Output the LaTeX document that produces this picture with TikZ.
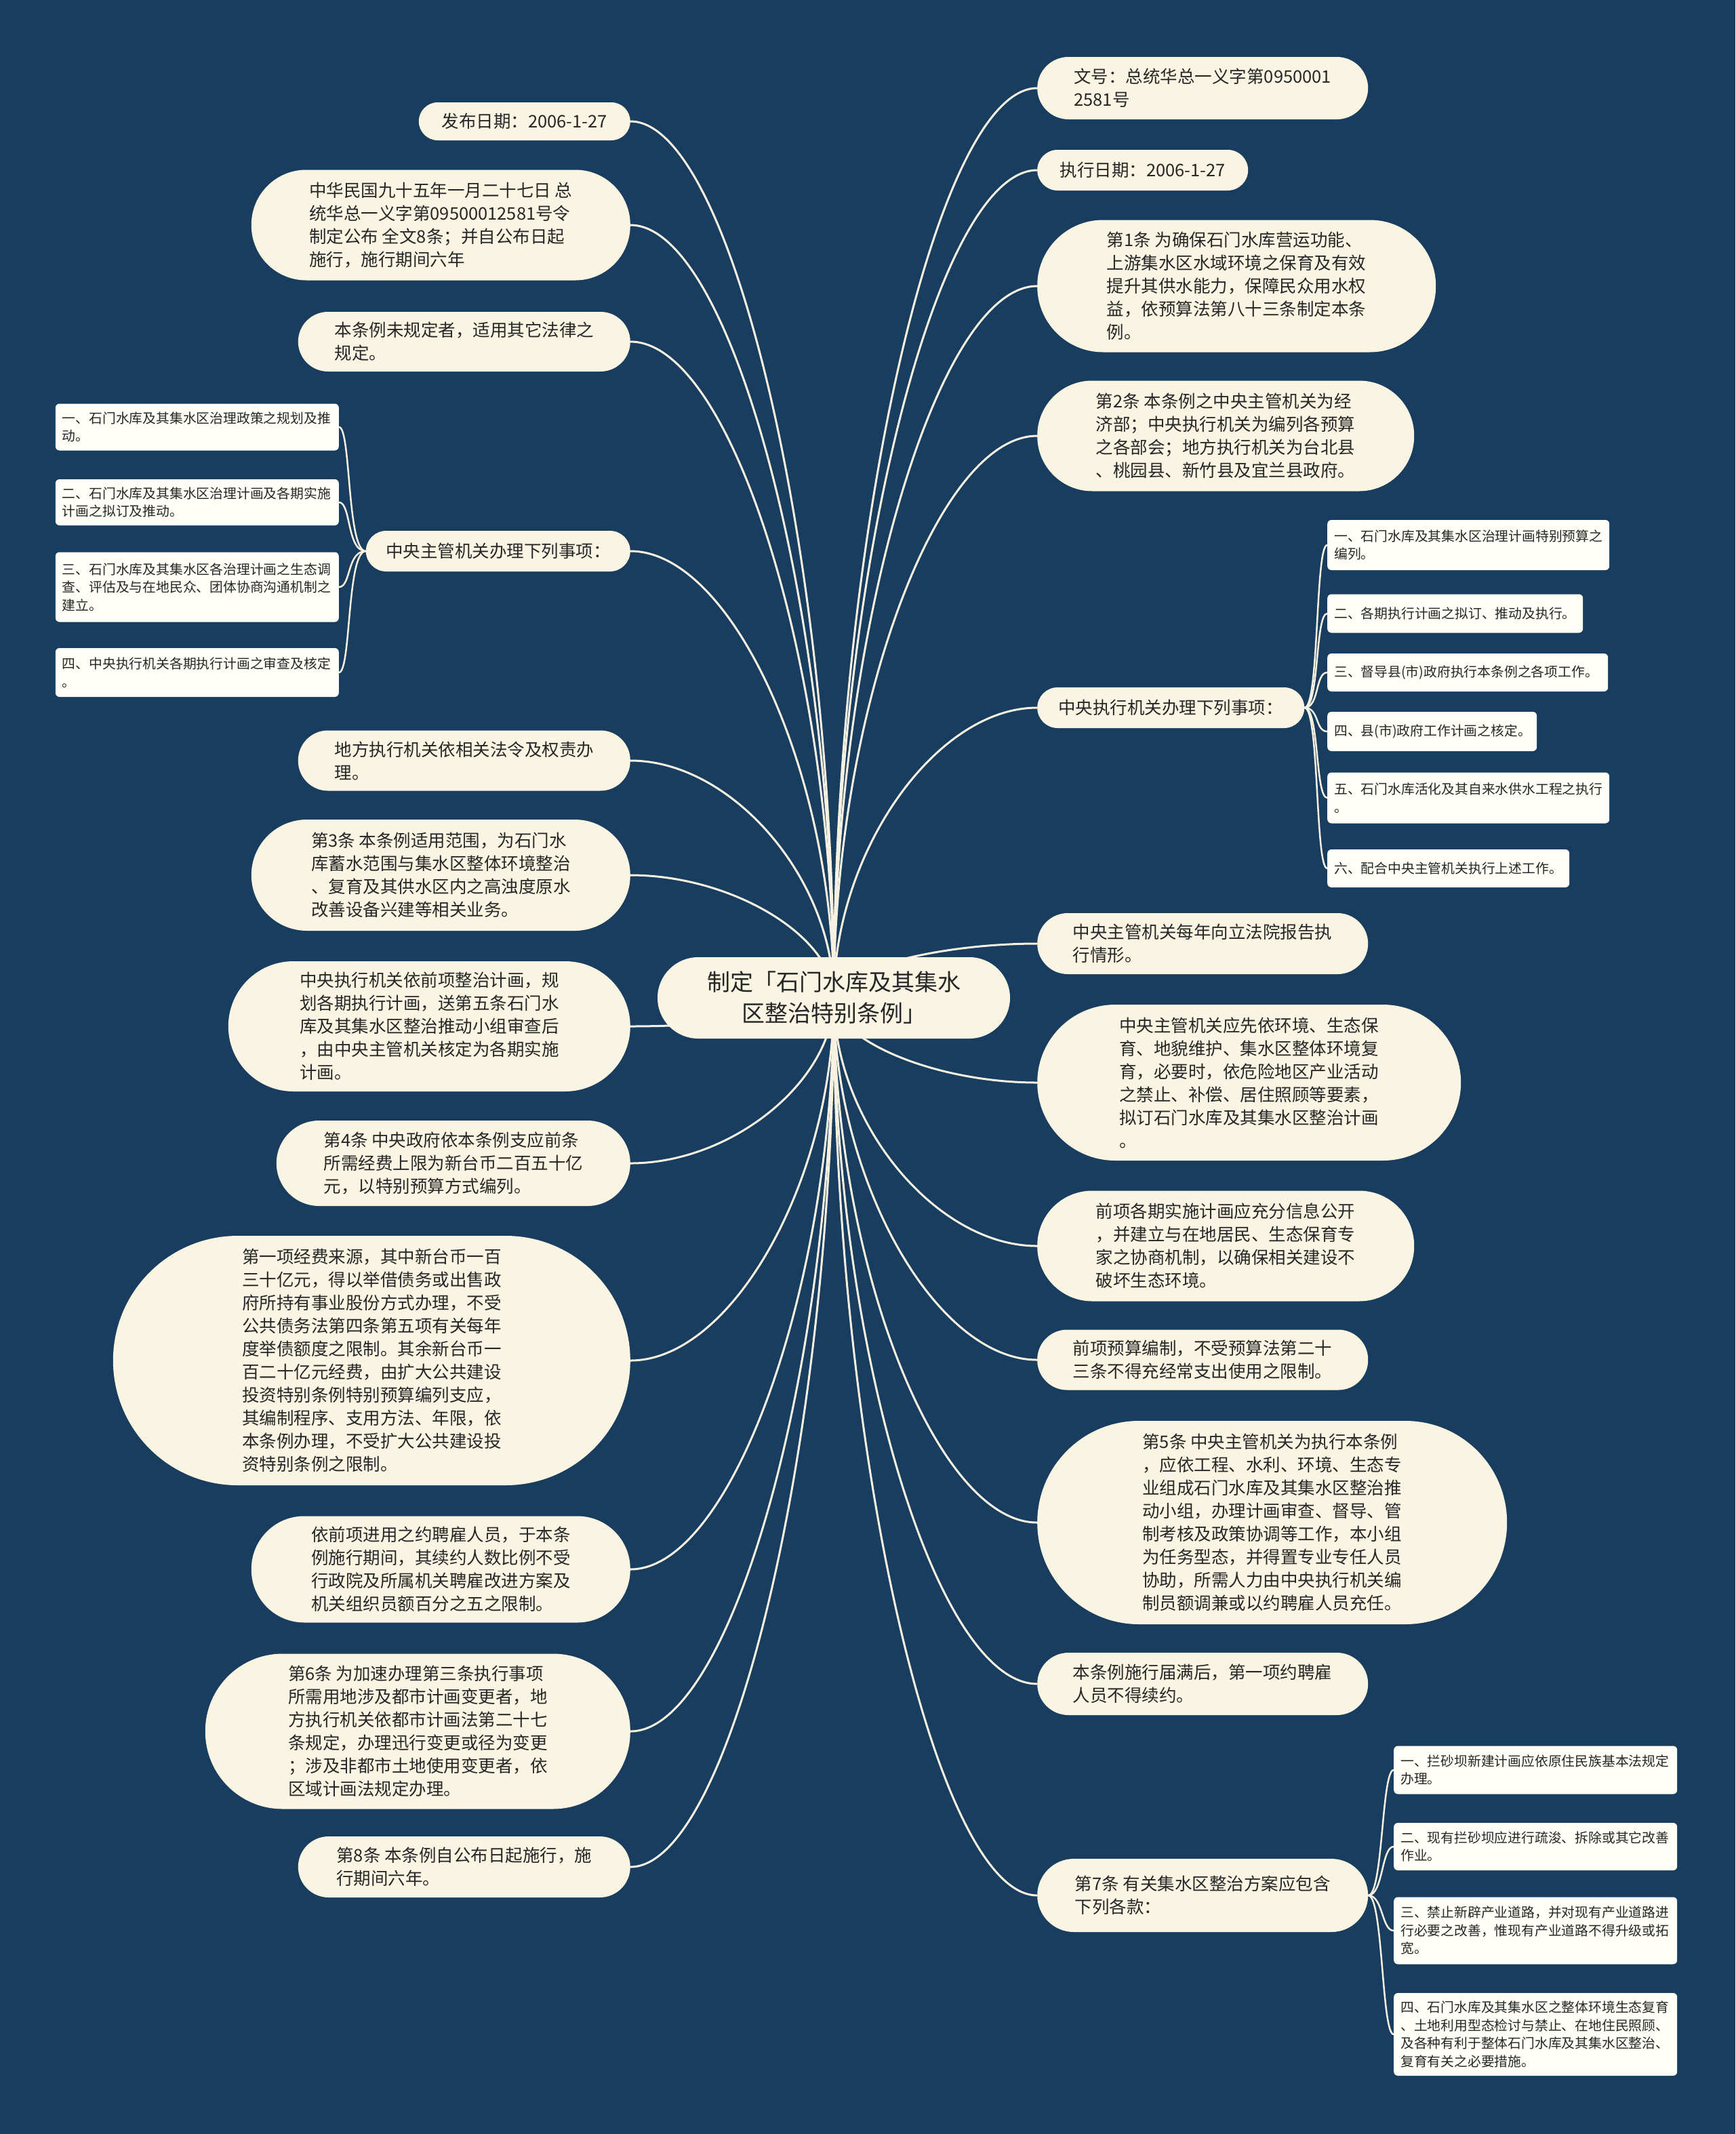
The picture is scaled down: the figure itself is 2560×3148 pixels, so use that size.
\documentclass[tikz,border=0pt]{standalone}
\usepackage{fontspec}
\setmainfont{Noto Sans CJK SC}
\usetikzlibrary{backgrounds,calc}
\definecolor{bgc}{RGB}{25,61,94}
\definecolor{nodec}{RGB}{250,245,227}
\definecolor{leafc}{RGB}{255,254,247}
\definecolor{linec}{RGB}{246,241,224}
\definecolor{txtc}{RGB}{38,38,38}
\tikzset{
  mainnode/.style={fill=nodec, text=txtc, align=left, inner sep=0pt, font=\fontsize{25.5}{34}\selectfont},
  rootnode/.style={fill=nodec, text=txtc, align=center, inner sep=0pt, font=\fontsize{34}{46}\selectfont},
  leafnode/.style={fill=leafc, text=txtc, align=left, inner xsep=10pt, inner ysep=0pt, rounded corners=6pt, font=\fontsize{19.8}{26.5}\selectfont},
  conn/.style={draw=linec, line width=3pt},
  subconn/.style={draw=linec, line width=2.5pt},
}
\begin{document}
\begin{tikzpicture}[x=1pt,y=-1pt]
\useasboundingbox (0,0) rectangle (2560,3148);
% root
\node[rootnode, minimum width=520pt, minimum height=120pt, rounded corners=60pt] (root) at (1230,1472) {制定「石门水库及其集水\\区整治特别条例」};
% left main nodes
\node[mainnode, anchor=east, minimum width=312pt, minimum height=56pt, rounded corners=28pt] (L1) at (930,179) {发布日期：2006-1-27};
\node[mainnode, anchor=east, minimum width=559pt, minimum height=163pt, rounded corners=81pt] (L2) at (930,332) {中华民国九十五年一月二十七日 总\\统华总一义字第09500012581号令\\制定公布 全文8条；并自公布日起\\施行，施行期间六年};
\node[mainnode, anchor=east, minimum width=490pt, minimum height=88pt, rounded corners=44pt] (L3) at (930,504) {本条例未规定者，适用其它法律之\\规定。};
\node[mainnode, anchor=east, minimum width=390pt, minimum height=60pt, rounded corners=30pt] (L4) at (930,813) {中央主管机关办理下列事项：};
\node[mainnode, anchor=east, minimum width=490pt, minimum height=89pt, rounded corners=44pt] (L5) at (930,1122) {地方执行机关依相关法令及权责办\\理。};
\node[mainnode, anchor=east, minimum width=559pt, minimum height=164pt, rounded corners=82pt] (L6) at (930,1291) {第3条 本条例适用范围，为石门水\\库蓄水范围与集水区整体环境整治\\、复育及其供水区内之高浊度原水\\改善设备兴建等相关业务。};
\node[mainnode, anchor=east, minimum width=593pt, minimum height=192pt, rounded corners=96pt] (L7) at (930,1514) {中央执行机关依前项整治计画，规\\划各期执行计画，送第五条石门水\\库及其集水区整治推动小组审查后\\，由中央主管机关核定为各期实施\\计画。};
\node[mainnode, anchor=east, minimum width=522pt, minimum height=126pt, rounded corners=63pt] (L8) at (930,1716) {第4条 中央政府依本条例支应前条\\所需经费上限为新台币二百五十亿\\元，以特别预算方式编列。};
\node[mainnode, anchor=east, minimum width=763pt, minimum height=368pt, rounded corners=184pt] (L9) at (930,2007) {第一项经费来源，其中新台币一百\\三十亿元，得以举借债务或出售政\\府所持有事业股份方式办理，不受\\公共债务法第四条第五项有关每年\\度举债额度之限制。其余新台币一\\百二十亿元经费，由扩大公共建设\\投资特别条例特别预算编列支应，\\其编制程序、支用方法、年限，依\\本条例办理，不受扩大公共建设投\\资特别条例之限制。};
\node[mainnode, anchor=east, minimum width=559pt, minimum height=157pt, rounded corners=78pt] (L10) at (930,2315) {依前项进用之约聘雇人员，于本条\\例施行期间，其续约人数比例不受\\行政院及所属机关聘雇改进方案及\\机关组织员额百分之五之限制。};
\node[mainnode, anchor=east, minimum width=627pt, minimum height=229pt, rounded corners=114pt] (L11) at (930,2554) {第6条 为加速办理第三条执行事项\\所需用地涉及都市计画变更者，地\\方执行机关依都市计画法第二十七\\条规定，办理迅行变更或径为变更\\；涉及非都市土地使用变更者，依\\区域计画法规定办理。};
\node[mainnode, anchor=east, minimum width=490pt, minimum height=90pt, rounded corners=45pt] (L12) at (930,2754) {第8条 本条例自公布日起施行，施\\行期间六年。};
% left leaves
\node[leafnode, anchor=east, text width=398pt, minimum height=69pt] (LA1) at (500,630) {一、石门水库及其集水区治理政策之规划及推\\动。};
\node[leafnode, anchor=east, text width=398pt, minimum height=68pt] (LA2) at (500,741) {二、石门水库及其集水区治理计画及各期实施\\计画之拟订及推动。};
\node[leafnode, anchor=east, text width=398pt, minimum height=103pt] (LA3) at (500,866) {三、石门水库及其集水区各治理计画之生态调\\查、评估及与在地民众、团体协商沟通机制之\\建立。};
\node[leafnode, anchor=east, text width=398pt, minimum height=72pt] (LA4) at (500,992) {四、中央执行机关各期执行计画之审查及核定\\。};
% right main nodes
\node[mainnode, anchor=west, minimum width=488pt, minimum height=92pt, rounded corners=46pt] (R1) at (1530,130) {文号：总统华总一义字第0950001\\2581号};
\node[mainnode, anchor=west, minimum width=311pt, minimum height=60pt, rounded corners=30pt] (R2) at (1530,251) {执行日期：2006-1-27};
\node[mainnode, anchor=west, minimum width=588pt, minimum height=195pt, rounded corners=97pt] (R3) at (1530,422) {第1条 为确保石门水库营运功能、\\上游集水区水域环境之保育及有效\\提升其供水能力，保障民众用水权\\益，依预算法第八十三条制定本条\\例。};
\node[mainnode, anchor=west, minimum width=556pt, minimum height=163pt, rounded corners=81pt] (R4) at (1530,643) {第2条 本条例之中央主管机关为经\\济部；中央执行机关为编列各预算\\之各部会；地方执行机关为台北县\\、桃园县、新竹县及宜兰县政府。};
\node[mainnode, anchor=west, minimum width=394pt, minimum height=60pt, rounded corners=30pt] (R5) at (1530,1044) {中央执行机关办理下列事项：};
\node[mainnode, anchor=west, minimum width=488pt, minimum height=90pt, rounded corners=45pt] (R6) at (1530,1392) {中央主管机关每年向立法院报告执\\行情形。};
\node[mainnode, anchor=west, minimum width=625pt, minimum height=230pt, rounded corners=115pt] (R7) at (1530,1597) {中央主管机关应先依环境、生态保\\育、地貌维护、集水区整体环境复\\育，必要时，依危险地区产业活动\\之禁止、补偿、居住照顾等要素，\\拟订石门水库及其集水区整治计画\\。};
\node[mainnode, anchor=west, minimum width=556pt, minimum height=163pt, rounded corners=81pt] (R8) at (1530,1838) {前项各期实施计画应充分信息公开\\，并建立与在地居民、生态保育专\\家之协商机制，以确保相关建设不\\破坏生态环境。};
\node[mainnode, anchor=west, minimum width=488pt, minimum height=89pt, rounded corners=44pt] (R9) at (1530,2006) {前项预算编制，不受预算法第二十\\三条不得充经常支出使用之限制。};
\node[mainnode, anchor=west, minimum width=693pt, minimum height=300pt, rounded corners=150pt] (R10) at (1530,2246) {第5条 中央主管机关为执行本条例\\，应依工程、水利、环境、生态专\\业组成石门水库及其集水区整治推\\动小组，办理计画审查、督导、管\\制考核及政策协调等工作，本小组\\为任务型态，并得置专业专任人员\\协助，所需人力由中央执行机关编\\制员额调兼或以约聘雇人员充任。};
\node[mainnode, anchor=west, minimum width=488pt, minimum height=92pt, rounded corners=46pt] (R11) at (1530,2484) {本条例施行届满后，第一项约聘雇\\人员不得续约。};
\node[mainnode, anchor=west, minimum width=488pt, minimum height=108pt, rounded corners=54pt] (R12) at (1530,2796) {第7条 有关集水区整治方案应包含\\下列各款：};
% right leaves (R5)
\node[leafnode, anchor=west, text width=396pt, minimum height=74pt] (RA1) at (1958,804) {一、石门水库及其集水区治理计画特别预算之\\编列。};
\node[leafnode, anchor=west, text width=357pt, minimum height=57pt] (RA2) at (1958,905) {二、各期执行计画之拟订、推动及执行。};
\node[leafnode, anchor=west, text width=394pt, minimum height=56pt] (RA3) at (1958,992) {三、督导县(市)政府执行本条例之各项工作。};
\node[leafnode, anchor=west, text width=289pt, minimum height=58pt] (RA4) at (1958,1079) {四、县(市)政府工作计画之核定。};
\node[leafnode, anchor=west, text width=396pt, minimum height=75pt] (RA5) at (1958,1177) {五、石门水库活化及其自来水供水工程之执行\\。};
\node[leafnode, anchor=west, text width=337pt, minimum height=56pt] (RA6) at (1958,1281) {六、配合中央主管机关执行上述工作。};
% right leaves (R12)
\node[leafnode, anchor=west, text width=398pt, minimum height=71pt] (RB1) at (2056,2611) {一、拦砂坝新建计画应依原住民族基本法规定\\办理。};
\node[leafnode, anchor=west, text width=398pt, minimum height=70pt] (RB2) at (2056,2724) {二、现有拦砂坝应进行疏浚、拆除或其它改善\\作业。};
\node[leafnode, anchor=west, text width=398pt, minimum height=99pt] (RB3) at (2056,2848) {三、禁止新辟产业道路，并对现有产业道路进\\行必要之改善，惟现有产业道路不得升级或拓\\宽。};
\node[leafnode, anchor=west, text width=398pt, minimum height=122pt] (RB4) at (2056,3001) {四、石门水库及其集水区之整体环境生态复育\\、土地利用型态检讨与禁止、在地住民照顾、\\及各种有利于整体石门水库及其集水区整治、\\复育有关之必要措施。};
% connectors
\begin{scope}[on background layer]
\fill[bgc] (0,0) rectangle (2560,3148);
\foreach \n in {L1,L2,L3,L4,L5,L6,L7,L8,L9,L10,L11,L12}
  \draw[conn] (root.center) .. controls ($(root.center)!0.5!(root.center |- \n.east)$) and ($(root.center |- \n.east)!0.5!(\n.east)$) .. (\n.east);
\foreach \n in {R1,R2,R3,R4,R5,R6,R7,R8,R9,R10,R11,R12}
  \draw[conn] (root.center) .. controls ($(root.center)!0.5!(root.center |- \n.west)$) and ($(root.center |- \n.west)!0.5!(\n.west)$) .. (\n.west);
\foreach \n in {LA1,LA2,LA3,LA4}
  \draw[subconn] (L4.west) .. controls +(-28,0) and +(18,0) .. (\n.east);
\foreach \n in {RA1,RA2,RA3,RA4,RA5,RA6}
  \draw[subconn] (R5.east) .. controls +(22,0) and +(-18,0) .. (\n.west);
\foreach \n in {RB1,RB2,RB3,RB4}
  \draw[subconn] (R12.east) .. controls +(22,0) and +(-18,0) .. (\n.west);
\end{scope}
\end{tikzpicture}
\end{document}
